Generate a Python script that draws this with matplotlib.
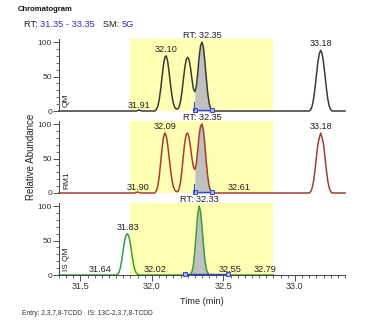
import matplotlib.pyplot as plt
from matplotlib.ticker import MultipleLocator
import matplotlib.transforms as mtransforms
import numpy as np

plt.rcParams['font.family'] = ['Liberation Sans', 'DejaVu Sans']

# trace points (time in min, relative abundance in %)
qm_t = [31.35, 31.89, 31.91, 31.93, 32.02, 32.03, 32.04, 32.05, 32.06, 32.07, 32.08, 32.09, 32.10,
        32.11, 32.12, 32.13, 32.14, 32.15, 32.16, 32.17, 32.18, 32.19, 32.20, 32.21, 32.22,
        32.23, 32.24, 32.25, 32.26, 32.27, 32.28, 32.29, 32.30, 32.31, 32.32, 32.33, 32.34,
        32.35, 32.36, 32.37, 32.38, 32.39, 32.40, 32.41, 32.42, 32.43, 33.10, 33.11, 33.12,
        33.13, 33.14, 33.15, 33.16, 33.17, 33.18, 33.19, 33.20, 33.21, 33.22, 33.23, 33.24,
        33.25, 33.26, 33.35]
qm_y = [0, 0, 1.5, 0, 0, 2, 6, 15, 30, 48, 66, 78, 80,
        72, 56, 38, 22, 11, 5, 3, 3, 6, 14, 28, 46,
        63, 75, 78, 74, 62, 46, 32, 28, 35, 55, 78, 95,
        100, 92, 72, 48, 26, 11, 4, 1, 0, 0, 2, 7,
        17, 33, 52, 70, 83, 88, 83, 70, 52, 33, 17, 7,
        2, 0, 0]

rm1_t = [31.35, 31.88, 31.90, 31.92, 32.02, 32.03, 32.04, 32.05, 32.06, 32.07, 32.08, 32.09, 32.10,
         32.11, 32.12, 32.13, 32.14, 32.15, 32.16, 32.17, 32.18, 32.19, 32.20, 32.21, 32.22,
         32.23, 32.24, 32.25, 32.26, 32.27, 32.28, 32.29, 32.30, 32.31, 32.32, 32.33, 32.34,
         32.35, 32.36, 32.37, 32.38, 32.39, 32.40, 32.41, 32.42, 32.43, 33.10, 33.11, 33.12,
         33.13, 33.14, 33.15, 33.16, 33.17, 33.18, 33.19, 33.20, 33.21, 33.22, 33.23, 33.24,
         33.25, 33.26, 33.35]
rm1_y = [0, 0, 1.5, 0, 0, 3, 9, 22, 42, 63, 80, 87, 83,
         70, 52, 34, 19, 9, 4, 2, 2, 6, 16, 33, 55,
         74, 85, 87, 80, 66, 50, 38, 34, 42, 62, 84, 97,
         100, 91, 70, 45, 24, 10, 4, 1, 0, 0, 2, 7,
         17, 33, 52, 70, 80, 87, 80, 70, 52, 33, 17, 7,
         2, 0, 0]

is_t = [31.35, 31.75, 31.76, 31.77, 31.78, 31.79, 31.80, 31.81, 31.82, 31.83, 31.84, 31.85,
        31.86, 31.87, 31.88, 31.89, 31.90, 31.91, 32.26, 32.27, 32.28, 32.29, 32.30, 32.31,
        32.32, 32.33, 32.34, 32.35, 32.36, 32.37, 32.38, 32.39, 32.40, 32.41, 32.85]
is_y = [0, 0, 1, 4, 11, 23, 38, 51, 58, 60, 55, 44,
        30, 17, 8, 3, 1, 0, 0, 1, 5, 15, 35, 62,
        88, 100, 92, 70, 44, 22, 9, 3, 1, 0, 0]

panels = [
    dict(name='QM', t=qm_t, y=qm_y, color='#3a3a3a', rt='RT: 32.35', rt_x=32.35,
         peaks=[(32.10, 80, '32.10'), (33.18, 88, '33.18')],
         small=[(31.91, '31.91')], integ=(32.30, 32.42), spike=True),
    dict(name='RM1', t=rm1_t, y=rm1_y, color='#a83a32', rt='RT: 32.35', rt_x=32.35,
         peaks=[(32.09, 87, '32.09'), (33.18, 87, '33.18')],
         small=[(31.90, '31.90'), (32.61, '32.61')], integ=(32.30, 32.42), spike=True),
    dict(name='IS QM', t=is_t, y=is_y, color='#3c9c3c', rt='RT: 32.33', rt_x=32.33,
         peaks=[(31.83, 60, '31.83')],
         small=[(31.64, '31.64'), (32.02, '32.02'), (32.55, '32.55'), (32.79, '32.79')],
         integ=(32.23, 32.53), spike=False),
]

window = (31.85, 32.85)
bottoms = [0.6563, 0.4025, 0.1486]

fig = plt.figure(figsize=(3.75, 3.23), dpi=100)
fs = 6
lfs = 6.6

for i, p in enumerate(panels):
    ax = fig.add_axes([0.1573, bottoms[i], 0.7627, 0.222])
    ax.set_xlim(31.35, 33.35)
    ax.set_ylim(0, 104)
    ax.axvspan(window[0], window[1], color='#ffffb3', lw=0, zorder=0)

    t = np.array(p['t'])
    y = np.array(p['y'])
    m = (t >= p['integ'][0] - 1e-9) & (t <= p['integ'][1] + 1e-9)
    ax.fill_between(t, 0, y, where=m, color='#c0c0c0', lw=0, zorder=1)
    ax.plot(t, y, color=p['color'], lw=1.1, zorder=2, clip_on=False)

    # integration baseline
    ax.plot(list(p['integ']), [0.8, 0.8], color='#3344cc', lw=1.0, zorder=3,
            marker='s', ms=3.5, mfc='#aab4ee', mec='#3344cc', mew=0.7, clip_on=False)
    if p['spike']:
        ax.plot([p['integ'][0] - 0.005] * 2, [0, 13], color='#3344cc', lw=0.8, zorder=3)

    for x, h, lab in p['peaks']:
        ax.text(x, h + 3, lab, ha='center', va='bottom', fontsize=lfs, color='#222222')
    for x, lab in p['small']:
        ax.text(x, 1.5, lab, ha='center', va='bottom', fontsize=lfs, color='#222222')

    trans = mtransforms.blended_transform_factory(ax.transData, ax.transAxes)
    ax.text(p['rt_x'], 0.995, p['rt'], transform=trans, ha='center', va='bottom',
            fontsize=lfs, color='#222222')
    ax.text(0.026, 0.05, p['name'], transform=ax.transAxes, rotation=90,
            ha='center', va='bottom', fontsize=fs, color='#222222')

    ax.set_yticks([0, 50, 100])
    ax.yaxis.set_minor_locator(MultipleLocator(10))
    ax.tick_params(axis='y', which='major', length=4, width=0.6, labelsize=fs,
                   colors='#333333', pad=1)
    ax.tick_params(axis='y', which='minor', length=2, width=0.5, colors='#333333')
    for s in ['top', 'right']:
        ax.spines[s].set_visible(False)
    ax.spines['left'].set_color('#444444')
    ax.spines['left'].set_linewidth(0.7)

    if i < 2:
        ax.spines['bottom'].set_visible(False)
        ax.set_xticks([])
    else:
        ax.spines['bottom'].set_color('#444444')
        ax.spines['bottom'].set_linewidth(0.7)
        ax.set_xticks([31.5, 32.0, 32.5, 33.0])
        ax.set_xticklabels(['31.5', '32.0', '32.5', '33.0'])
        ax.xaxis.set_minor_locator(MultipleLocator(0.05))
        ax.tick_params(axis='x', which='major', length=4, width=0.6, labelsize=lfs,
                       colors='#333333', pad=1)
        ax.tick_params(axis='x', which='minor', length=2, width=0.5, colors='#333333')
        ax.set_xlabel('Time (min)', fontsize=lfs, color='#222222', labelpad=4)

fig.text(0.083, 0.514, 'Relative Abundance', rotation=90, ha='center', va='center',
         fontsize=7, color='#222222')
fig.text(0.048, 0.972, 'Chromatogram', ha='left', va='center', fontsize=5.5,
         fontweight='bold', color='#111111')

# header line with coloured values
x0 = 0.064
y0 = 0.925
parts = [('RT: ', '#222222'), ('31.35 - 33.35', '#3333aa'), ('   SM: ', '#222222'), ('5G', '#3333aa')]
r = fig.canvas.get_renderer()
for txt, col in parts:
    tt = fig.text(x0, y0, txt, ha='left', va='center', fontsize=6.7, color=col)
    bb = tt.get_window_extent(renderer=r)
    x0 += bb.width / fig.bbox.width

fig.text(0.059, 0.028, 'Entry: 2,3,7,8-TCDD   IS: 13C-2,3,7,8-TCDD', ha='left', va='center',
         fontsize=4.8, color='#333333')

fig.savefig('out.png', dpi=100)
